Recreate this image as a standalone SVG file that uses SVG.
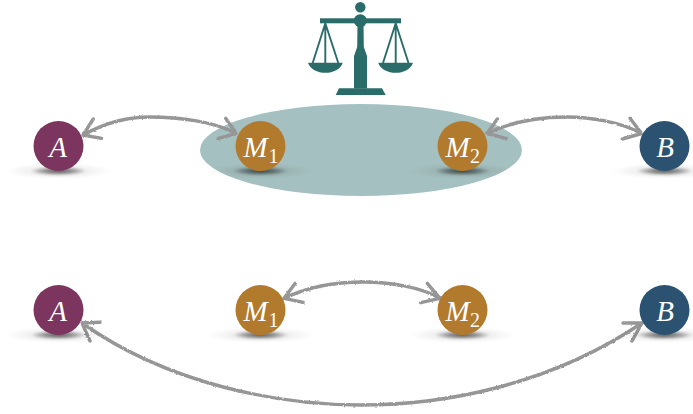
<svg xmlns="http://www.w3.org/2000/svg" width="693" height="414" viewBox="0 0 693 414">
<style>
.c{fill:none;stroke:#969696;stroke-width:3.4;stroke-linecap:round;stroke-linejoin:round}
.t{font-family:"Liberation Serif",serif;font-style:italic;font-size:29px;fill:#fff}
.s{font-family:"Liberation Serif",serif;font-size:20px;fill:#fff}
.st{fill:none;stroke:#296c6a;stroke-width:1.9}
</style>
<defs>
<filter id="rough" x="-10%" y="-30%" width="120%" height="160%" color-interpolation-filters="sRGB"><feTurbulence type="fractalNoise" baseFrequency="0.45" numOctaves="3" seed="3" result="n"/><feDisplacementMap in="SourceGraphic" in2="n" scale="2.2" xChannelSelector="R" yChannelSelector="G" result="d"/><feGaussianBlur in="d" stdDeviation="0.4"/></filter>
<filter id="soft" x="-20%" y="-60%" width="140%" height="220%"><feGaussianBlur stdDeviation="1"/></filter>
<radialGradient id="sw"><stop offset="0" stop-color="#000" stop-opacity=".15"/><stop offset=".5" stop-color="#000" stop-opacity=".06"/><stop offset="1" stop-color="#000" stop-opacity="0"/></radialGradient>
<radialGradient id="sd"><stop offset="0" stop-color="#000" stop-opacity=".6"/><stop offset=".6" stop-color="#000" stop-opacity=".3"/><stop offset="1" stop-color="#000" stop-opacity="0"/></radialGradient>
<g id="shadow"><ellipse cx="0" cy="25" rx="54" ry="8" fill="url(#sw)"/><ellipse cx="0" cy="25" rx="28" ry="4.5" fill="url(#sd)" filter="url(#soft)"/></g>
</defs>
<ellipse id="mediator" cx="361" cy="150" rx="161" ry="46" fill="#a5c0c0"/>
<g id="scale" fill="#296c6a">
<circle cx="360.3" cy="7.3" r="5.2"/>
<circle cx="360.3" cy="20.7" r="6.5"/>
<rect x="320" y="18.3" width="81" height="5"/>
<path d="M357.5 24H363.5L363.8 47L367 56V88.5H354V56L357.2 47Z"/>
<path d="M339 88.3H382L385.7 95H335.7Z"/>
<path d="M308 62.7H342.7C341 69 333 72.8 325.3 72.8C317.5 72.8 310 69 308 62.7Z"/>
<path d="M378.3 62.7H413C411 69 403.5 72.8 395.7 72.8C388 72.8 380 69 378.3 62.7Z"/>
<path class="st" d="M312.7 63L325.3 23.3L338.3 63M325.3 23.3V63M383 63L395.7 23.3L408.5 63M395.7 23.3V63"/>
</g>
<g id="connectors" filter="url(#rough)">
<path class="c" d="M83 135C110 120 135 117 150 117C180 117 215 122 236 133.5M93.3 119L83 135L101.7 138.3M225.7 118.3L236 133.5L218.3 138.3"/>
<path class="c" d="M487 133.5C515 120 545 117 566.7 117C590 117 620 122 641.7 133.5M497.3 119L487 133.5L506 138.3M630 118.3L641.7 133.5L622.3 139"/>
<path class="c" d="M284 298.3C310 286 340 282 363.3 282C390 282 420 287 440 298.3M295.3 283.3L284 298.3L303.3 302.3M427.3 283.3L440 298.3L420.7 302.7"/>
<path class="c" d="M82 323C170 385 280 405 361 405C445 405 550 385 642 323M100 322.3L82 323L90 341M623 323L642 323L632 341"/>
</g>
<g id="A1"><use href="#shadow" x="58.5" y="146"/><circle cx="58.5" cy="146" r="25" fill="#7b355f"/><text class="t" x="58" y="156.5" text-anchor="middle">A</text></g>
<g id="M1-1"><use href="#shadow" x="260.5" y="146"/><circle cx="260.5" cy="146" r="25" fill="#b27a2d"/><text class="t" x="243.5" y="156.5">M</text><text class="s" x="268.5" y="163">1</text></g>
<g id="M2-1"><use href="#shadow" x="462.5" y="146"/><circle cx="462.5" cy="146" r="25" fill="#b27a2d"/><text class="t" x="445.5" y="156.5">M</text><text class="s" x="470" y="163">2</text></g>
<g id="B1"><use href="#shadow" x="664.5" y="146"/><circle cx="664.5" cy="146" r="25" fill="#2b5371"/><text class="t" x="665" y="156.5" text-anchor="middle">B</text></g>
<g id="A2"><use href="#shadow" x="58.5" y="310"/><circle cx="58.5" cy="310" r="25" fill="#7b355f"/><text class="t" x="58" y="320.5" text-anchor="middle">A</text></g>
<g id="M1-2"><use href="#shadow" x="260.5" y="310"/><circle cx="260.5" cy="310" r="25" fill="#b27a2d"/><text class="t" x="243.5" y="320.5">M</text><text class="s" x="268.5" y="327">1</text></g>
<g id="M2-2"><use href="#shadow" x="462.5" y="310"/><circle cx="462.5" cy="310" r="25" fill="#b27a2d"/><text class="t" x="445.5" y="320.5">M</text><text class="s" x="470" y="327">2</text></g>
<g id="B2"><use href="#shadow" x="664.5" y="310"/><circle cx="664.5" cy="310" r="25" fill="#2b5371"/><text class="t" x="665" y="320.5" text-anchor="middle">B</text></g>
</svg>
